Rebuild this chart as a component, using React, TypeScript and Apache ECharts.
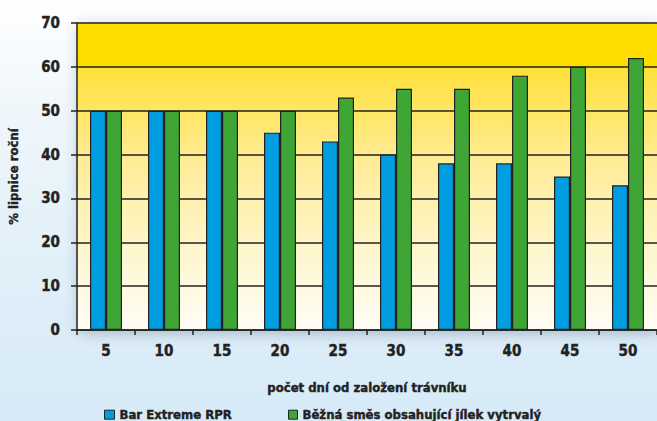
import React, { useEffect, useRef } from "react";
import * as echarts from "echarts";

const categories = ["5", "10", "15", "20", "25", "30", "35", "40", "45", "50"];
const barExtreme = [50, 50, 50, 45, 43, 40, 38, 38, 35, 33];
const bezna = [50, 50, 50, 50, 53, 55, 55, 58, 60, 62];
const seriesNames = ["Bar Extreme RPR", "Běžná směs obsahující jílek vytrvalý"];

const FONT = "'Liberation Sans Narrow', 'DejaVu Sans Condensed', 'Roboto Condensed', sans-serif";

export default function App() {
  const ref = useRef<HTMLDivElement>(null);
  useEffect(() => {
    if (!ref.current) return;
    const chart = echarts.init(ref.current, null, { renderer: "svg" });
    const gl = 77, gt = 23, gw = 580, gh = 307;
    const heavy = { textBorderColor: "#222", textBorderWidth: 0.4 };
    const legendText = { fontFamily: FONT, fontWeight: "bold", fontSize: 13, color: "#222", ...heavy };
    chart.setOption({
      animation: false,
      textStyle: { fontFamily: FONT },
      graphic: [
        {
          type: "rect",
          z: -10,
          shape: { x: gl, y: gt, width: gw, height: gh },
          style: {
            fill: new echarts.graphic.LinearGradient(0, 0, 0, 1, [
              { offset: 0, color: "#FFDC00" },
              { offset: 0.142, color: "#FFDC00" },
              { offset: 0.146, color: "#FFE03A" },
              { offset: 0.45, color: "#FFEC96" },
              { offset: 0.75, color: "#FFF6CF" },
              { offset: 1, color: "#FFFDF5" },
            ]),
            shadowBlur: 14,
            shadowColor: "rgba(60,80,100,0.35)",
            shadowOffsetX: 2,
            shadowOffsetY: 3,
          },
        },
      ],
      grid: { left: gl, top: gt, width: gw, height: gh, outerBoundsMode: "none", containLabel: false },
      legend: [
        {
          data: [seriesNames[0]],
          left: 99,
          top: 403,
          icon: "rect",
          itemWidth: 10,
          itemHeight: 9,
          itemStyle: { borderColor: "#222", borderWidth: 1 },
          textStyle: legendText,
        },
        {
          data: [seriesNames[1]],
          left: 283,
          top: 403,
          icon: "rect",
          itemWidth: 9,
          itemHeight: 9,
          itemStyle: { borderColor: "#222", borderWidth: 1 },
          textStyle: legendText,
        },
      ],
      xAxis: {
        type: "category",
        data: categories,
        name: "počet dní od založení trávníku",
        nameLocation: "middle",
        nameGap: 51,
        nameTextStyle: { fontFamily: FONT, fontWeight: "bold", fontSize: 13, color: "#222", ...heavy },
        axisLine: { lineStyle: { color: "#222", width: 1.5 } },
        axisTick: { show: true, length: 5, lineStyle: { color: "#222", width: 1.5 } },
        axisLabel: { margin: 13, fontFamily: FONT, fontWeight: "bold", fontSize: 15, color: "#222", ...heavy },
      },
      yAxis: {
        type: "value",
        min: 0,
        max: 70,
        interval: 10,
        name: "% lipnice roční",
        nameLocation: "middle",
        nameGap: 57,
        nameTextStyle: { fontFamily: FONT, fontWeight: "bold", fontSize: 13, color: "#222", ...heavy },
        axisLine: { show: true, lineStyle: { color: "#222", width: 1.5 } },
        axisTick: { show: true, length: 6, lineStyle: { color: "#222", width: 1.5 } },
        axisLabel: { margin: 17, fontFamily: FONT, fontWeight: "bold", fontSize: 15, color: "#222", ...heavy },
        splitLine: { show: true, lineStyle: { color: "#222", width: 1.5 } },
      },
      series: [
        {
          name: seriesNames[0],
          type: "bar",
          data: barExtreme,
          barWidth: 16,
          barGap: "0%",
          itemStyle: { color: "#009EE0", borderColor: "#222", borderWidth: 1.2 },
        },
        {
          name: seriesNames[1],
          type: "bar",
          data: bezna,
          barWidth: 16,
          barGap: "0%",
          itemStyle: { color: "#3FA535", borderColor: "#222", borderWidth: 1.2 },
        },
      ],
    });
    return () => chart.dispose();
  }, []);
  return (
    <div
      style={{
        position: "fixed",
        left: 0,
        top: 0,
        width: 657,
        height: 421,
        background: "linear-gradient(180deg, #ffffff 0%, #f0f7fb 25%, #e2f0f9 60%, #d6eaf7 100%)",
      }}
    >
      <div ref={ref} style={{ width: 657, height: 421 }} />
    </div>
  );
}
